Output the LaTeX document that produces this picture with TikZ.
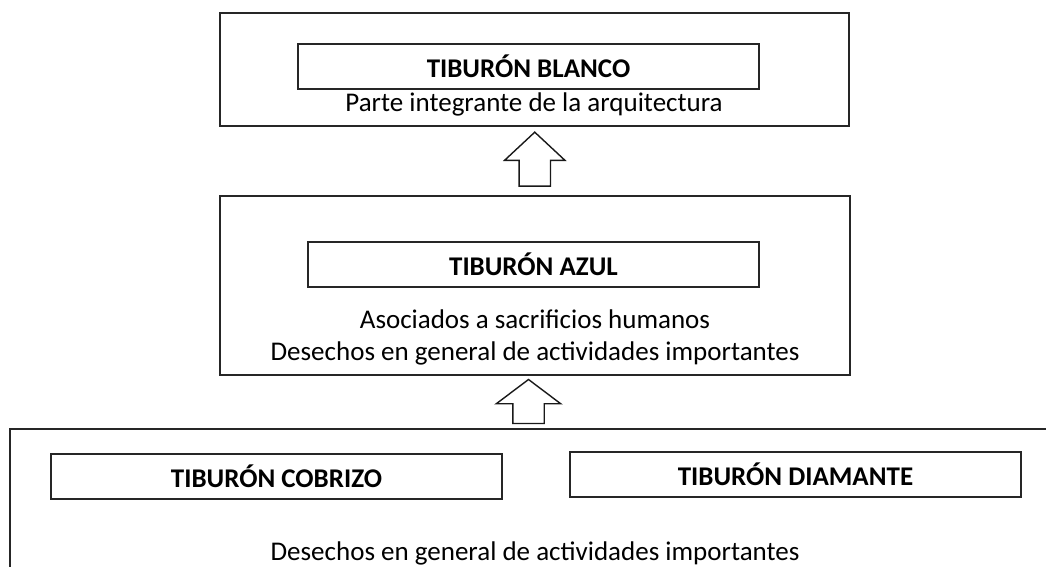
\documentclass[tikz,border=0pt]{standalone}
\usepackage{fontspec}
\setmainfont{Carlito}
\usetikzlibrary{shapes.arrows,calc}

\begin{document}
\begin{tikzpicture}[x=1pt,y=-1pt,
  every node/.style={font=\fontsize{27}{32}\selectfont},
  frame/.style={draw=black!85,line width=1.6pt,inner sep=0pt},
  tag/.style={frame,minimum width=451pt,minimum height=45pt,font=\fontsize{27}{32}\selectfont\bfseries},
  uparrow/.style={single arrow,draw=black!90,line width=1.4pt,shape border rotate=90,inner sep=15pt,yshift=-5.5pt}]
  \useasboundingbox (0,0) rectangle (1046,567);
  \clip (0,0) rectangle (1046,567);

  % levels
  \node[frame,minimum width=629pt,minimum height=113pt] (top) at (534.5,69.5) {};
  \node[frame,minimum width=630pt,minimum height=179pt] (mid) at (535,285.5) {};
  \node[frame,minimum width=1100pt,minimum height=200pt,anchor=north west] (base) at (9,428) {};

  % titles
  \node[tag,minimum width=461pt] (blanco) at (528.5,66.5) {TIBURÓN BLANCO};
  \node (blancotxt) at (534,104) {Parte integrante de la arquitectura};
  \node[tag] (azul) at (533.5,264.5) {TIBURÓN AZUL};
  \node[align=center] (azultxt) at (535,337) {Asociados a sacrificios humanos\\Desechos en general de actividades importantes};
  \node[tag] (cobrizo) at (276.5,476.5) {TIBURÓN COBRIZO};
  \node[tag] (diamante) at (795.5,474.5) {TIBURÓN DIAMANTE};
  \node (basetxt) at (535,553) {Desechos en general de actividades importantes};

  % arrows
  \node[uparrow,minimum height=54pt,single arrow head extend=14.5pt,
    single arrow tip angle=94] (up1) at ($(top.south)!0.5!(mid.north)$) {};
  \node[uparrow,minimum height=44pt,single arrow head extend=16.5pt,
    single arrow tip angle=106,xshift=-6.5pt] (up2) at ($(mid.south)!0.5!(mid.south |- base.north)$) {};
\end{tikzpicture}
\end{document}
